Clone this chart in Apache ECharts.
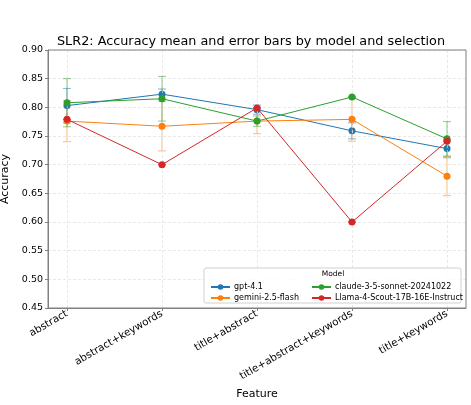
<!DOCTYPE html>
<html>
<head>
<meta charset="utf-8">
<script src="https://cdn.jsdelivr.net/npm/echarts@6/dist/echarts.min.js"></script>
<style>
  html, body { margin: 0; padding: 0; background: #fff; }
  #main { width: 471px; height: 405px; }
</style>
</head>
<body>
<div id="main"></div>
<script>
// categories on the x axis
var features = ['abstract', 'abstract+keywords', 'title+abstract', 'title+abstract+keywords', 'title+keywords'];
var yTicks = [0.45, 0.50, 0.55, 0.60, 0.65, 0.70, 0.75, 0.80, 0.85, 0.90];

// mean accuracy per model
var gptMean = [0.803, 0.823, 0.796, 0.759, 0.728];
var geminiMean = [0.776, 0.767, 0.776, 0.779, 0.680];
var claudeMean = [0.808, 0.815, 0.776, 0.818, 0.745];
var llamaMean = [0.779, 0.700, 0.799, 0.600, 0.741];

// half-width of the error bars
var gptErr = [0.030, 0.009, 0.008, 0.014, 0.016];
var geminiErr = [0.036, 0.043, 0.022, 0.038, 0.034];
var claudeErr = [0.042, 0.039, 0.009, 0.000, 0.030];
var llamaErr = [0, 0, 0, 0, 0];

var models = [
  { name: 'gpt-4.1', color: '#1f77b4', mean: gptMean, err: gptErr },
  { name: 'gemini-2.5-flash', color: '#ff7f0e', mean: geminiMean, err: geminiErr },
  { name: 'claude-3-5-sonnet-20241022', color: '#2ca02c', mean: claudeMean, err: claudeErr },
  { name: 'Llama-4-Scout-17B-16E-Instruct', color: '#d62728', mean: llamaMean, err: llamaErr }
];

var font = 'DejaVu Sans';
var chart = echarts.init(document.getElementById('main'));

function errRender(color) {
  return function (params, api) {
    var x = api.value(0);
    var top = api.coord([x, api.value(2)]);
    var bot = api.coord([x, api.value(1)]);
    var st = { stroke: color, lineWidth: 1, opacity: 0.55 };
    var cap = 4;
    return {
      type: 'group',
      children: [
        { type: 'line', shape: { x1: top[0], y1: top[1], x2: bot[0], y2: bot[1] }, style: st },
        { type: 'line', shape: { x1: top[0] - cap, y1: top[1], x2: top[0] + cap, y2: top[1] }, style: st },
        { type: 'line', shape: { x1: bot[0] - cap, y1: bot[1], x2: bot[0] + cap, y2: bot[1] }, style: st }
      ]
    };
  };
}

var series = [];
models.forEach(function (m, k) {
  series.push({
    name: m.name + ' err',
    type: 'custom',
    renderItem: errRender(m.color),
    z: 2 + k * 2,
    silent: true,
    data: m.mean.map(function (v, i) { return [i, v - m.err[i], v + m.err[i]]; })
  });
  series.push({
    name: m.name,
    type: 'line',
    symbol: 'circle',
    symbolSize: 7,
    z: 3 + k * 2,
    lineStyle: { color: m.color, width: 1 },
    itemStyle: { color: m.color },
    data: m.mean.map(function (v, i) { return [i, v]; })
  });
});

// vertical grid lines at each category
series.push({
  type: 'line',
  data: [],
  silent: true,
  z: 1,
  markLine: {
    silent: true,
    symbol: ['none', 'none'],
    label: { show: false },
    lineStyle: { color: '#e3e3e3', type: [3, 2], width: 0.8 },
    data: features.map(function (f, i) { return { xAxis: i }; })
  }
});

chart.setOption({
  animation: false,
  backgroundColor: '#fff',
  title: {
    text: 'SLR2: Accuracy mean and error bars by model and selection',
    left: 246,
    top: 30,
    textAlign: 'center',
    textStyle: { fontFamily: font, fontSize: 12.8, fontWeight: 'normal', color: '#000' }
  },
  legend: [
    {
      left: 205, top: 278, orient: 'vertical', itemGap: 3, z: 60,
      itemWidth: 19, itemHeight: 7,
      data: [models[0].name, models[1].name],
      textStyle: { fontFamily: font, fontSize: 8, color: '#000', padding: [0, 0, 0, -1] }
    },
    {
      left: 306, top: 278, orient: 'vertical', itemGap: 3, z: 60,
      itemWidth: 19, itemHeight: 7,
      data: [models[2].name, models[3].name],
      textStyle: { fontFamily: font, fontSize: 8, color: '#000', padding: [0, 0, 0, -1] }
    }
  ],
  graphic: [
    {
      type: 'rect', z: 40, silent: true,
      shape: { x: 48, y: 50, width: 418, height: 258 },
      style: { fill: 'none', stroke: '#808080', lineWidth: 1 }
    },
    {
      type: 'rect', z: 50,
      shape: { x: 204, y: 268, width: 257, height: 35, r: 2 },
      style: { fill: 'rgba(255,255,255,0.8)', stroke: '#d0d0d0', lineWidth: 1 }
    },
    {
      type: 'text', z: 51, x: 333, y: 270,
      style: { text: 'Model', fontFamily: font, fontSize: 7.5, fill: '#000', align: 'center' }
    }
  ],
  grid: { left: 48, right: 5, top: 50, bottom: 97, containLabel: false, outerBoundsMode: 'none' },
  xAxis: {
    type: 'value',
    min: -0.2,
    max: 4.2,
    name: 'Feature',
    nameLocation: 'middle',
    nameGap: 81,
    nameTextStyle: { fontFamily: font, fontSize: 11, color: '#000' },
    axisLine: { show: true, onZero: false, lineStyle: { color: '#808080' } },
    axisTick: { show: true, customValues: [0, 1, 2, 3, 4], length: 3, lineStyle: { color: '#808080' } },
    axisLabel: {
      customValues: [0, 1, 2, 3, 4],
      rotate: 30,
      margin: 5,
      fontFamily: font,
      fontSize: 10.3,
      color: '#000',
      formatter: function (v) { return features[Math.round(v)]; }
    },
    splitLine: { show: false }
  },
  yAxis: {
    type: 'value',
    min: yTicks[0],
    max: yTicks[yTicks.length - 1],
    interval: 0.05,
    name: 'Accuracy',
    nameLocation: 'middle',
    nameGap: 30,
    nameTextStyle: { fontFamily: font, fontSize: 11, color: '#000' },
    axisLine: { show: true, onZero: false, lineStyle: { color: '#808080' } },
    axisTick: { show: true, length: 3, lineStyle: { color: '#808080' } },
    axisLabel: {
      margin: 5,
      fontFamily: font,
      fontSize: 9.5,
      color: '#000',
      formatter: function (v) { return v.toFixed(2); }
    },
    splitLine: { show: true, lineStyle: { color: '#e3e3e3', type: [3, 2], width: 0.8 } }
  },
  series: series
});
</script>
</body>
</html>
